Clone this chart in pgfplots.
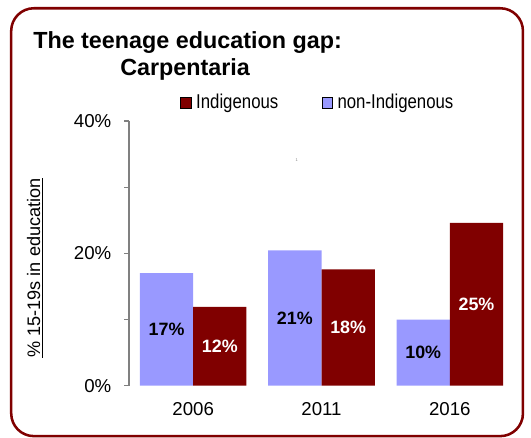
\documentclass[border=0pt]{standalone}
\usepackage{pgfplots}
\pgfplotsset{compat=1.18}
\usepackage{fontspec}
\setmainfont{Liberation Sans}
\newfontfamily\narrowfont[FakeStretch=0.84]{Liberation Sans}

\definecolor{indig}{RGB}{128,0,0}
\definecolor{nonind}{RGB}{153,153,255}
\definecolor{framered}{RGB}{128,0,0}

\begin{document}
\begin{tikzpicture}
\useasboundingbox (0,0) rectangle (398.25pt,328.5pt);
% rounded frame round the whole chart
\draw[framered, line width=1.9pt, rounded corners=17pt] (8.4pt,1.4pt) rectangle (392.2pt,322.3pt);

\node[anchor=base west, inner sep=0pt, font=\bfseries\fontsize{17.5}{21}\selectfont]
  at (24.75pt,292.3pt) {The teenage education gap:};
\node[anchor=base west, inner sep=0pt, font=\bfseries\fontsize{17.5}{21}\selectfont]
  at (90pt,271.5pt) {Carpentaria};
\node[inner sep=0pt, text=gray, font=\fontsize{3}{3}\selectfont] at (222.5pt,208.5pt) {1};

\begin{axis}[
    at={(96.75pt,39.2pt)}, anchor=south west,
    scale only axis,
    width=288.75pt, height=198.5pt,
    xmin=-0.5, xmax=2.5,
    ymin=0, ymax=40,
    axis x line=bottom, axis y line=left,
    axis line style={-, draw=gray, line width=0.9pt},
    x axis line style={draw=none},
    xtick={0,1,2}, xticklabels={2006,2011,2016},
    xtick style={draw=none},
    ytick={0,10,20,30,40}, yticklabels={0\%,,20\%,,40\%},
    ytick style={draw=gray, line width=0.9pt},
    tick align=outside, major tick length=3.75pt,
    ticklabel style={font=\fontsize{14}{16}\selectfont},
    xticklabel style={yshift=-5pt},
    yticklabel style={xshift=-6pt},
    every axis y label/.style={at={(rel axis cs:-0.244,0.445)}, rotate=90,
        anchor=center, font=\fontsize{13.6}{16}\selectfont},
    ylabel={\underline{\% 15-19s in education}},
    ybar, bar width=0.415,
    legend image code/.code={\fill[#1] (0pt,-4.1pt) rectangle (7.75pt,4.1pt);
        \path (9.5pt,0pt);},
    legend style={at={(rel axis cs:0.1325,1.07)}, anchor=west, draw=none, fill=none,
        legend columns=2, font=\narrowfont\fontsize{15}{17}\selectfont, inner sep=0pt,
        /tikz/every even column/.append style={column sep=30.5pt}},
    legend cell align=left,
]
\addlegendimage{fill=indig}
\addlegendentry{Indigenous}
\addlegendimage{fill=nonind}
\addlegendentry{non-Indigenous}

% non-Indigenous (left bar of each pair)
\addplot[forget plot, fill=nonind, draw=none, bar shift=-0.2075,
    point meta=explicit symbolic, nodes near coords,
    visualization depends on={y \as \rawy},
    every node near coord/.append style={anchor=center, text=black,
        font=\bfseries\fontsize{13.4}{16}\selectfont,
        shift={(axis direction cs:0,-\rawy/2)}}]
    coordinates {(0,17.0)[17\%] (1,20.45)[21\%] (2,10.0)[10\%]};

% Indigenous (right bar of each pair)
\addplot[forget plot, fill=indig, draw=none, bar shift=0.2075,
    point meta=explicit symbolic, nodes near coords,
    visualization depends on={y \as \rawy},
    every node near coord/.append style={anchor=center, text=white,
        font=\bfseries\fontsize{13.4}{16}\selectfont,
        shift={(axis direction cs:0,-\rawy/2)}}]
    coordinates {(0,11.9)[12\%] (1,17.6)[18\%] (2,24.6)[25\%]};
\end{axis}
\end{tikzpicture}
\end{document}
